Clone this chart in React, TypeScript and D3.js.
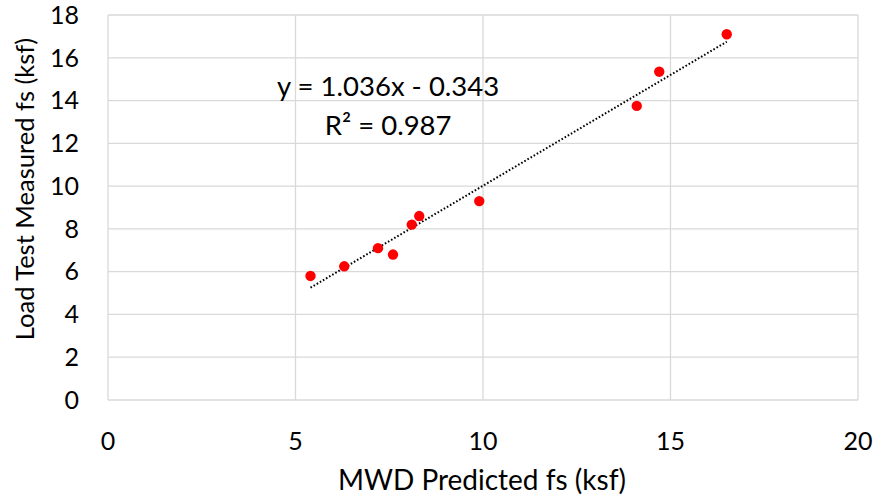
import React from "react";
import * as d3 from "d3";

const W = 875;
const H = 499;
const MARGIN = { top: 15, right: 17, bottom: 99, left: 108 };

// MWD predicted vs load test measured unit side friction (ksf)
const predicted = [5.4, 6.3, 7.2, 7.6, 8.1, 8.3, 9.9, 14.1, 14.7, 16.5];
const measured = [5.8, 6.25, 7.1, 6.8, 8.2, 8.6, 9.3, 13.75, 15.35, 17.1];
const xTicks = [0, 5, 10, 15, 20];
const yTicks = [0, 2, 4, 6, 8, 10, 12, 14, 16, 18];
const slope = 1.036;
const intercept = -0.343;
const eqLabel = "y = 1.036x - 0.343";
const r2Label = "R² = 0.987";

const FONT = "Lato, Calibri, 'Open Sans', sans-serif";
const GRID = "#d9d9d9";

const App = () => {
  const boundsWidth = W - MARGIN.left - MARGIN.right;
  const boundsHeight = H - MARGIN.top - MARGIN.bottom;

  const xScale = d3.scaleLinear().domain([0, 20]).range([0, boundsWidth]);
  const yScale = d3.scaleLinear().domain([0, 18]).range([boundsHeight, 0]);

  const xMin = d3.min(predicted) || 0;
  const xMax = d3.max(predicted) || 0;
  const trend = d3
    .line<number>()
    .x((d) => xScale(d))
    .y((d) => yScale(slope * d + intercept))([xMin, xMax]);

  return (
    <svg
      width={W}
      height={H}
      style={{ position: "absolute", left: 0, top: 0, background: "#fff" }}
    >
      <g transform={`translate(${MARGIN.left},${MARGIN.top})`}>
        {yTicks.map((t) => (
          <line
            key={"gy" + t}
            x1={0}
            x2={boundsWidth}
            y1={yScale(t)}
            y2={yScale(t)}
            stroke={GRID}
            strokeWidth={1.3}
          />
        ))}
        {xTicks.map((t) => (
          <line
            key={"gx" + t}
            x1={xScale(t)}
            x2={xScale(t)}
            y1={0}
            y2={boundsHeight}
            stroke={GRID}
            strokeWidth={1.3}
          />
        ))}
        {yTicks.map((t) => (
          <text
            key={"ty" + t}
            x={-29}
            y={yScale(t)}
            dy="0.35em"
            textAnchor="end"
            fontFamily={FONT}
            fontSize={25}
            fill="#000"
          >
            {t}
          </text>
        ))}
        {xTicks.map((t) => (
          <text
            key={"tx" + t}
            x={xScale(t)}
            y={boundsHeight + 50}
            textAnchor="middle"
            fontFamily={FONT}
            fontSize={25}
            fill="#000"
          >
            {t}
          </text>
        ))}
        <path
          d={trend || ""}
          fill="none"
          stroke="#000"
          strokeWidth={2}
          strokeDasharray="1.6 2"
        />
        {predicted.map((x, i) => (
          <circle
            key={i}
            cx={xScale(x)}
            cy={yScale(measured[i])}
            r={5.2}
            fill="#ff0000"
          />
        ))}
        <text
          x={xScale(7.47)}
          y={yScale(14.2)}
          textAnchor="middle"
          fontFamily={FONT}
          fontSize={27.5}
          fill="#000"
        >
          {eqLabel}
        </text>
        <text
          x={xScale(7.47)}
          y={yScale(12.4)}
          textAnchor="middle"
          fontFamily={FONT}
          fontSize={27.5}
          fill="#000"
        >
          {r2Label}
        </text>
      </g>
      <text
        x={482}
        y={490}
        textAnchor="middle"
        fontFamily={FONT}
        fontSize={28}
        fill="#000"
      >
        MWD Predicted fs (ksf)
      </text>
      <text
        transform={`translate(34,189) rotate(-90)`}
        textAnchor="middle"
        fontFamily={FONT}
        fontSize={25.5}
        fill="#000"
      >
        Load Test Measured fs (ksf)
      </text>
    </svg>
  );
};

export default App;
